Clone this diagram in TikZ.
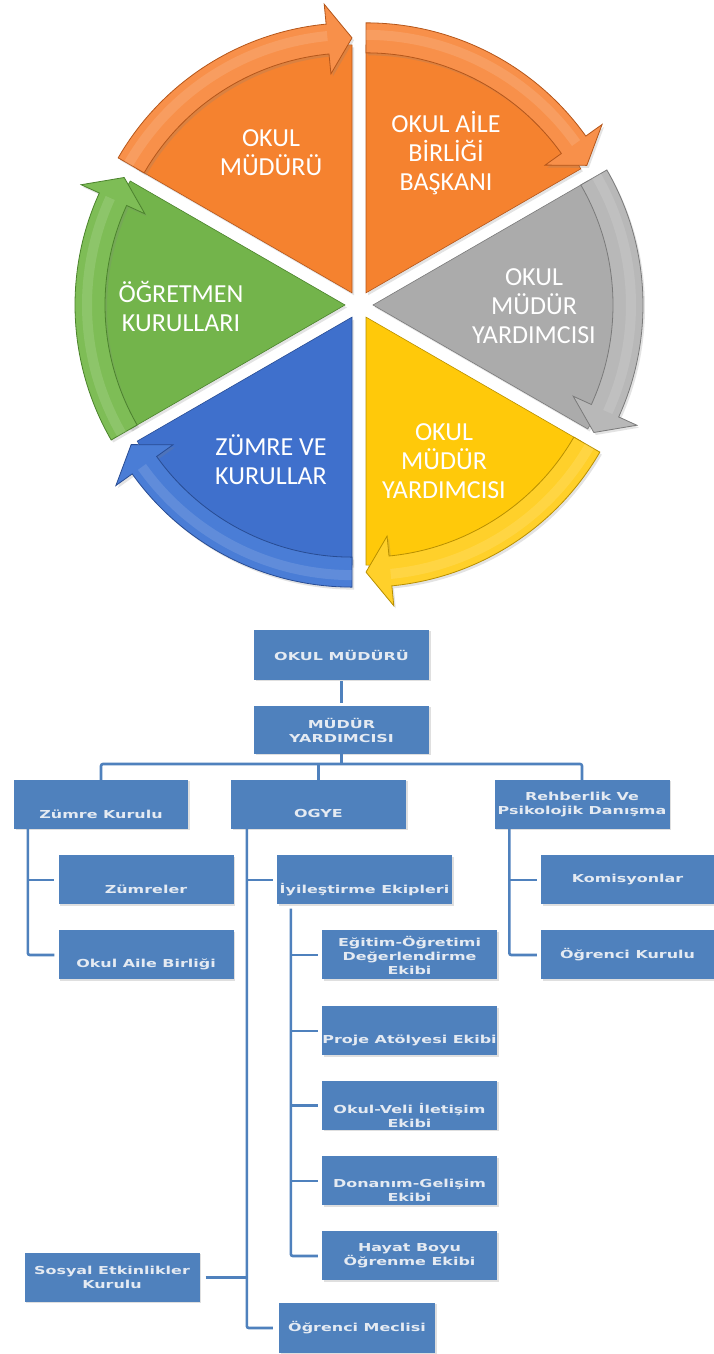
\documentclass[tikz,border=0pt]{standalone}
\usepackage{fontspec}
\setmainfont{Carlito}
\newfontfamily\piefont{Carlito}
\newfontfamily\orgfont{DejaVu Sans}[FakeStretch=1.45]
\usetikzlibrary{shadows,calc}
\definecolor{orW}{HTML}{F5822F}\definecolor{orB}{HTML}{F8904A}\definecolor{orD}{HTML}{B5561A}
\definecolor{grW}{HTML}{ABABAB}\definecolor{grB}{HTML}{B8B8B8}\definecolor{grD}{HTML}{7A7A7A}
\definecolor{yeW}{HTML}{FFC90A}\definecolor{yeB}{HTML}{FFD02A}\definecolor{yeD}{HTML}{B88F00}
\definecolor{blW}{HTML}{3F70CC}\definecolor{blB}{HTML}{4A7DD6}\definecolor{blD}{HTML}{284C93}
\definecolor{gnW}{HTML}{73B44B}\definecolor{gnB}{HTML}{7EBD56}\definecolor{gnD}{HTML}{4B832C}
\definecolor{boxblue}{HTML}{4F81BD}
\definecolor{orgtext}{HTML}{E4EAF2}
\tikzset{
  pieshadow/.style={drop shadow={opacity=0.22, shadow xshift=2pt, shadow yshift=-2.5pt}},
  pietxt/.style={font=\piefont\fontsize{26}{29}\selectfont, text=white, align=center, inner sep=0pt},
  box/.style={fill=boxblue, minimum width=175pt, minimum height=49pt, inner sep=0pt,
    drop shadow={opacity=0.25, shadow xshift=1.5pt, shadow yshift=-1.5pt},
    font=\orgfont\bfseries\fontsize{11}{14}\selectfont, text=orgtext, align=center},
  lbl/.style={font=\orgfont\bfseries\fontsize{11}{14}\selectfont, text=orgtext, align=center, inner sep=0pt, yshift=-9.5pt},
  lowered/.style={label={[lbl]center:{#1}}},
  conn/.style={draw=boxblue, line width=2.6pt, rounded corners=2pt}
}
% #1 bisector, #2 start angle, #3 end angle, #4 wedge colour, #5 band colour, #6 dark colour
\newcommand\pieseg[6]{%
\begin{scope}[shift={(359,1049)},shift={(#1:14pt)}]
  \pgfmathsetmacro\hb{#3+5.5}
  \fill[#4, draw=#6, line width=0.6pt, pieshadow] (0,0) -- (#2:248pt) arc[start angle=#2, end angle=#3, radius=248pt] -- cycle;
  \fill[#5, draw=#6, line width=0.8pt, pieshadow] (#2:240pt) -- (#2:270pt) arc[start angle=#2, end angle=\hb, radius=270pt]
     -- (\hb:290pt) -- (#3:255pt) -- (\hb:220pt) -- (\hb:240pt) arc[start angle=\hb, end angle=#2, radius=240pt] -- cycle;
  \draw[white, opacity=0.12, line width=10pt] (#2:258pt) arc[start angle=#2, end angle=\hb, radius=258pt];
\end{scope}}
\begin{document}
\begin{tikzpicture}[x=1pt,y=1pt]
\fill[white] (0,0) rectangle (714,1354);
\useasboundingbox (0,0) rectangle (714,1354);
% ---- cycle ----
\pieseg{120}{150}{90}{orW}{orB}{orD}
\pieseg{60}{90}{30}{orW}{orB}{orD}
\pieseg{0}{30}{-30}{grW}{grB}{grD}
\pieseg{-60}{-30}{-90}{yeW}{yeB}{yeD}
\pieseg{-120}{-90}{-150}{blW}{blB}{blD}
\pieseg{180}{-150}{-210}{gnW}{gnB}{gnD}
\node[pietxt] (p1) at (271,1201) {OKUL\\MÜDÜRÜ};
\node[pietxt] (p2) at (446,1201) {OKUL AİLE\\BİRLİĞİ\\BAŞKANI};
\node[pietxt] (p3) at (534,1048) {OKUL\\MÜDÜR\\YARDIMCISI};
\node[pietxt] (p4) at (444,893) {OKUL\\MÜDÜR\\YARDIMCISI};
\node[pietxt] (p5) at (271,894) {ZÜMRE VE\\KURULLAR};
\node[pietxt] (p6) at (181,1047) {ÖĞRETMEN\\KURULLARI};
% ---- org chart ----
\node[box, minimum height=50pt] (om) at (341.5,699) {OKUL MÜDÜRÜ};
\node[box, minimum height=48pt] (my) at (341.5,624) {MÜDÜR\\YARDIMCISI};
\node[box, minimum width=174pt, lowered={Zümre Kurulu}] (zk) at (101,549.5) {};
\node[box, lowered={OGYE}] (ogye) at (318.5,549.5) {};
\node[box] (rpd) at (582,549.5) {Rehberlik Ve\\Psikolojik Danışma};
\node[box, lowered={Zümreler}] (zum) at (146,474) {};
\node[box, lowered={Okul Aile Birliği}] (oab) at (146,399) {};
\node[box, lowered={İyileştirme Ekipleri}] (iye) at (364.5,474) {};
\node[box] (eod) at (409.5,399) {Eğitim-Öğretimi\\Değerlendirme\\Ekibi};
\node[box, lowered={Proje Atölyesi Ekibi}] (pae) at (409.5,323) {};
\node[box, lowered={Okul-Veli İletişim\\Ekibi}] (ovi) at (409.5,248.5) {};
\node[box, lowered={Donanım-Gelişim\\Ekibi}] (dge) at (409.5,173) {};
\node[box] (hbo) at (409.5,98) {Hayat Boyu\\Öğrenme Ekibi};
\node[box, minimum width=173pt] (kom) at (627.5,474) {Komisyonlar};
\node[box, minimum width=173pt] (ogk) at (627.5,399) {Öğrenci Kurulu};
\node[box] (sek) at (112,76.5) {Sosyal Etkinlikler\\Kurulu};
\node[box, minimum width=156pt, minimum height=50pt] (ome) at (357,26) {Öğrenci Meclisi};
% connectors
\draw[conn] ([yshift=-1pt]om.south) -- ([yshift=3pt]my.north);
\coordinate (bar) at (0,590);
\draw[conn] (my.south) -- (my.south |- bar);
\draw[conn] (zk.north) -- (zk.north |- bar) -- (rpd.north |- bar) -- (rpd.north);
\draw[conn] (ogye.north) -- (ogye.north |- bar);
\coordinate (zkv) at ([xshift=14pt]zk.south west);
\draw[conn] (zkv) |- ([xshift=-4pt]oab.west);
\draw[conn] (zkv |- zum.west) -- ([xshift=-4pt]zum.west);
\coordinate (ogv) at ([xshift=16pt]ogye.south west);
\draw[conn] (ogv) |- ([xshift=-6pt]ome.west);
\draw[conn] (ogv |- iye.west) -- ([xshift=-4pt]iye.west);
\draw[conn] ([xshift=6pt]sek.east) -- (ogv |- sek.east);
\coordinate (iyv) at ([xshift=14pt,yshift=-4pt]iye.south west);
\draw[conn] (iyv) |- ([xshift=-4pt]hbo.west);
\foreach \n in {eod,pae,ovi,dge} \draw[conn] (iyv |- \n.west) -- ([xshift=-4pt]\n.west);
\coordinate (rpv) at ([xshift=15pt]rpd.south west);
\draw[conn] (rpv) |- ([xshift=-4pt]ogk.west);
\draw[conn] (rpv |- kom.west) -- ([xshift=-4pt]kom.west);
\end{tikzpicture}
\end{document}
